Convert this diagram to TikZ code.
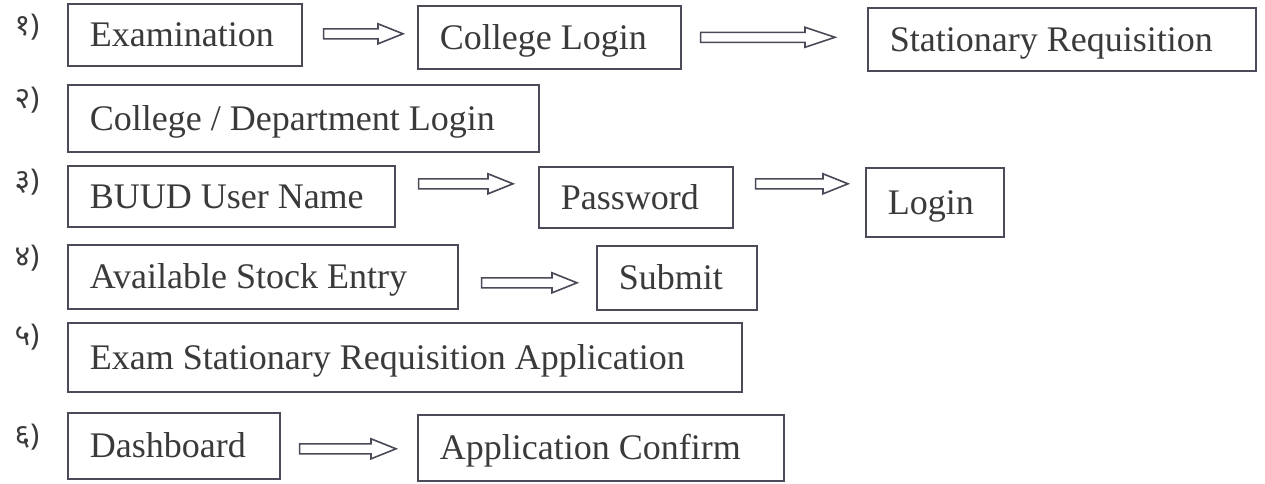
\documentclass[tikz,border=0pt]{standalone}
\usepackage{fontspec}
\setmainfont{Liberation Serif}
\newfontfamily\devfont[Script=Devanagari]{Noto Sans}
\usetikzlibrary{calc}
\definecolor{ink}{HTML}{3A3A3A}
\definecolor{frame}{HTML}{4A4A58}
\newcommand{\lbox}[2]{\makebox[#1][l]{#2}}
\tikzset{
  box/.style={draw=frame, line width=1.6pt, anchor=north west, inner xsep=22pt, inner ysep=0pt,
    text=ink, font=\fontsize{36}{40}\selectfont, text height=29pt, text depth=5pt},
  num/.style={text=ink, font=\devfont\fontsize{30}{32}\selectfont, inner sep=0pt},
  hollowarrow/.style={draw=frame, line width=1.6pt, line join=miter,
    to path={let \p1=(\tikztostart), \p2=(\tikztotarget) in
      (\x1,\y1+5pt) -- (\x2-#1,\y1+5pt) -- (\x2-#1,\y1+10pt) -- (\x2,\y1)
      -- (\x2-#1,\y1-10pt) -- (\x2-#1,\y1-5pt) -- (\x1,\y1-5pt) -- cycle}},
  hollowarrow/.default=25pt
}
\begin{document}
\begin{tikzpicture}[x=1pt,y=-1pt]
\useasboundingbox[fill=white] (0,0) rectangle (1265,483);
% row numbers
\node[num] (n1) at (27,27)  {१)};
\node[num] (n2) at (27,100) {२)};
\node[num] (n3) at (27,182) {३)};
\node[num] (n4) at (27,258) {४)};
\node[num] (n5) at (27,337) {५)};
\node[num] (n6) at (27,437) {६)};
% boxes
\node[box, minimum height=62pt] (ex) at (67,3)   {\lbox{190pt}{Examination}};
\node[box, minimum height=63pt] (cl) at (417,5)  {\lbox{219pt}{College Login}};
\node[box, minimum height=63pt] (st) at (867,7)  {\lbox{344pt}{Stationary Requisition}};
\node[box, minimum height=67pt] (cd) at (67,84)  {\lbox{427pt}{College / Department Login}};
\node[box, minimum height=61pt] (bu) at (67,165) {\lbox{283pt}{BUUD User Name}};
\node[box, minimum height=61pt] (pw) at (538,166) {\lbox{150pt}{Password}};
\node[box, minimum height=69pt] (lg) at (865,167) {\lbox{94pt}{Login}};
\node[box, minimum height=64pt] (av) at (67,244) {\lbox{346pt}{Available Stock Entry}};
\node[box, minimum height=64pt] (sb) at (596,245) {\lbox{116pt}{Submit}};
\node[box, minimum height=69pt] (es) at (67,322) {\lbox{630pt}{Exam Stationary Requisition Application}};
\node[box, minimum height=66pt] (db) at (67,412) {\lbox{168pt}{Dashboard}};
\node[box, minimum height=66pt] (ac) at (417,414) {\lbox{322pt}{Application Confirm}};
% arrows
\draw[hollowarrow] ([xshift=21pt,yshift=1pt]ex.east) to ([xshift=-14pt]cl.west);
\draw[hollowarrow=30pt] ([xshift=19pt]cl.east) to ([xshift=-32pt]st.west);
\draw[hollowarrow] ([xshift=23pt,yshift=12.5pt]bu.east) to ([xshift=-25pt]pw.west);
\draw[hollowarrow] ([xshift=22pt,yshift=13.5pt]pw.east) to ([xshift=-17pt]lg.west);
\draw[hollowarrow] ([xshift=23pt,yshift=-6pt]av.east) to ([xshift=-19pt]sb.west);
\draw[hollowarrow] ([xshift=19pt,yshift=-3pt]db.east) to ([xshift=-21pt]ac.west);
\end{tikzpicture}
\end{document}
